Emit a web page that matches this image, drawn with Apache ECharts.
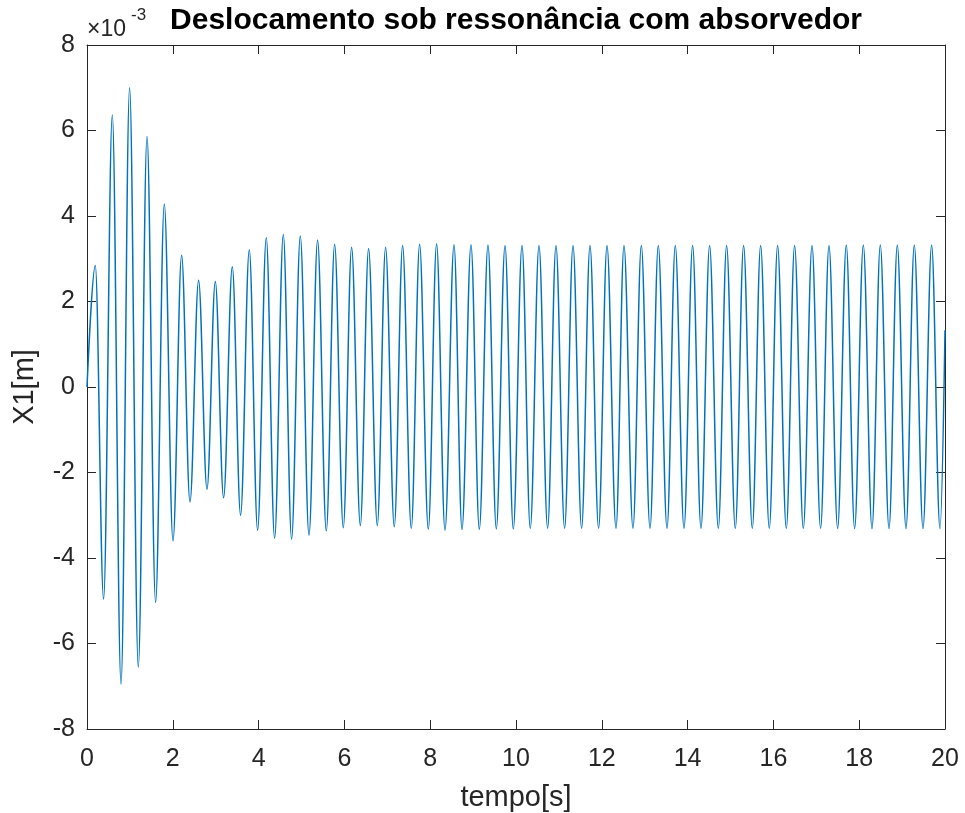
<!DOCTYPE html>
<html>
<head>
<meta charset="utf-8">
<title>Deslocamento sob ressonância com absorvedor</title>
<script src="https://cdn.jsdelivr.net/npm/echarts@6/dist/echarts.min.js"></script>
<style>
  html, body { margin: 0; padding: 0; background: #fff; }
  #chart { width: 965px; height: 813px; }
</style>
</head>
<body>
<div id="chart"></div>
<script>
// Time instants [s] of the start, every crest/trough, and the end of the record
const tempo = [
  0, 0.193, 0.387, 0.590, 0.793, 0.993, 1.196, 1.399, 1.599, 1.802, 2.005,
  2.205, 2.401, 2.601, 2.797, 2.991, 3.184, 3.387, 3.580, 3.783, 3.977,
  4.179, 4.373, 4.576, 4.769, 4.972, 5.175, 5.375, 5.578, 5.772, 5.974,
  6.168, 6.371, 6.564, 6.767, 6.960, 7.163, 7.357, 7.559, 7.753, 7.956,
  8.149, 8.345, 8.555, 8.741, 8.951, 9.145, 9.347, 9.541, 9.744, 9.937,
  10.140, 10.333, 10.536, 10.737, 10.932, 11.133, 11.329, 11.529, 11.725, 11.925,
  12.121, 12.331, 12.517, 12.727, 12.921, 13.124, 13.317, 13.520, 13.713, 13.916,
  14.117, 14.312, 14.513, 14.716, 14.909, 15.112, 15.305, 15.508, 15.702, 15.904,
  16.098, 16.301, 16.494, 16.697, 16.900, 17.100, 17.296, 17.497, 17.699, 17.893,
  18.096, 18.298, 18.492, 18.695, 18.888, 19.091, 19.284, 19.487, 19.688, 19.883,
  20
];

// Displacement X1 at those instants, in units of 1e-3 m
const x1 = [
  0, 2.84, -4.96, 6.36, -6.95, 7.00, -6.55, 5.86, -5.04, 4.28, -3.60,
  3.08, -2.69, 2.50, -2.39, 2.47, -2.59, 2.81, -3.00, 3.21, -3.35,
  3.49, -3.54, 3.57, -3.56, 3.53, -3.47, 3.44, -3.37, 3.34, -3.29,
  3.27, -3.24, 3.24, -3.24, 3.27, -3.27, 3.31, -3.31, 3.34, -3.33,
  3.35, -3.35, 3.33, -3.33, 3.33, -3.33, 3.32, -3.32, 3.31, -3.32,
  3.31, -3.31, 3.31, -3.31, 3.31, -3.31, 3.31, -3.31, 3.31, -3.31,
  3.31, -3.31, 3.31, -3.31, 3.31, -3.31, 3.31, -3.31, 3.31, -3.31,
  3.31, -3.31, 3.31, -3.31, 3.31, -3.31, 3.31, -3.31, 3.31, -3.31,
  3.31, -3.31, 3.31, -3.31, 3.31, -3.31, 3.31, -3.31, 3.32, -3.31,
  3.32, -3.31, 3.32, -3.31, 3.32, -3.31, 3.32, -3.31, 3.32, -3.31,
  1.33
];

const xTicks = { min: 0, max: 20, interval: 2 };
const yTicks = { min: -8, max: 8, interval: 2 };

const FONT = "'Liberation Sans', Arial, Helvetica, sans-serif";
const AXIS = '#262626';

const chart = echarts.init(document.getElementById('chart'), null, { renderer: 'canvas' });

const baseAxis = {
  axisLine: { show: true, onZero: false, lineStyle: { color: AXIS, width: 1 } },
  axisTick: { show: true, inside: true, length: 9, lineStyle: { color: AXIS, width: 1 } },
  splitLine: { show: false }
};

chart.setOption({
  animation: false,
  backgroundColor: '#fff',
  grid: { left: 87, top: 45, right: 20, bottom: 84, outerBoundsMode: 'none', containLabel: false },
  xAxis: [
    Object.assign({}, baseAxis, {
      type: 'value', position: 'bottom',
      min: xTicks.min, max: xTicks.max, interval: xTicks.interval,
      name: 'tempo[s]', nameLocation: 'middle', nameGap: 54,
      nameTextStyle: { color: AXIS, fontFamily: FONT, fontSize: 29 },
      axisLabel: { color: AXIS, fontFamily: FONT, fontSize: 25, margin: 18 }
    }),
    Object.assign({}, baseAxis, {
      type: 'value', position: 'top',
      min: xTicks.min, max: xTicks.max, interval: xTicks.interval,
      axisLabel: { show: false }
    })
  ],
  yAxis: [
    Object.assign({}, baseAxis, {
      type: 'value', position: 'left',
      min: yTicks.min, max: yTicks.max, interval: yTicks.interval,
      name: 'X1[m]', nameLocation: 'middle', nameGap: 48, nameRotate: 90,
      nameTextStyle: { color: AXIS, fontFamily: FONT, fontSize: 29 },
      axisLabel: { color: AXIS, fontFamily: FONT, fontSize: 25, margin: 12 }
    }),
    Object.assign({}, baseAxis, {
      type: 'value', position: 'right',
      min: yTicks.min, max: yTicks.max, interval: yTicks.interval,
      axisLabel: { show: false }
    })
  ],
  graphic: [
    {
      type: 'text', x: 516, y: 21,
      style: {
        text: 'Deslocamento sob ressonância com absorvedor',
        font: 'bold 30px ' + FONT, fill: '#000',
        textAlign: 'center', textVerticalAlign: 'middle'
      }
    },
    {
      type: 'text', x: 87, y: 30,
      style: { text: '×10', font: '23px ' + FONT, fill: AXIS, textAlign: 'left', textVerticalAlign: 'middle' }
    },
    {
      type: 'text', x: 131, y: 15,
      style: { text: '-3', font: '17px ' + FONT, fill: AXIS, textAlign: 'left', textVerticalAlign: 'middle' }
    }
  ],
  series: [{
    type: 'line',
    xAxisIndex: 0, yAxisIndex: 0,
    data: tempo.map((t, i) => [t, x1[i]]),
    showSymbol: false, symbol: 'none',
    smooth: 0.36, smoothMonotone: 'x',
    lineStyle: { color: '#0072BD', width: 1.5 },
    clip: true
  }]
});
</script>
</body>
</html>
